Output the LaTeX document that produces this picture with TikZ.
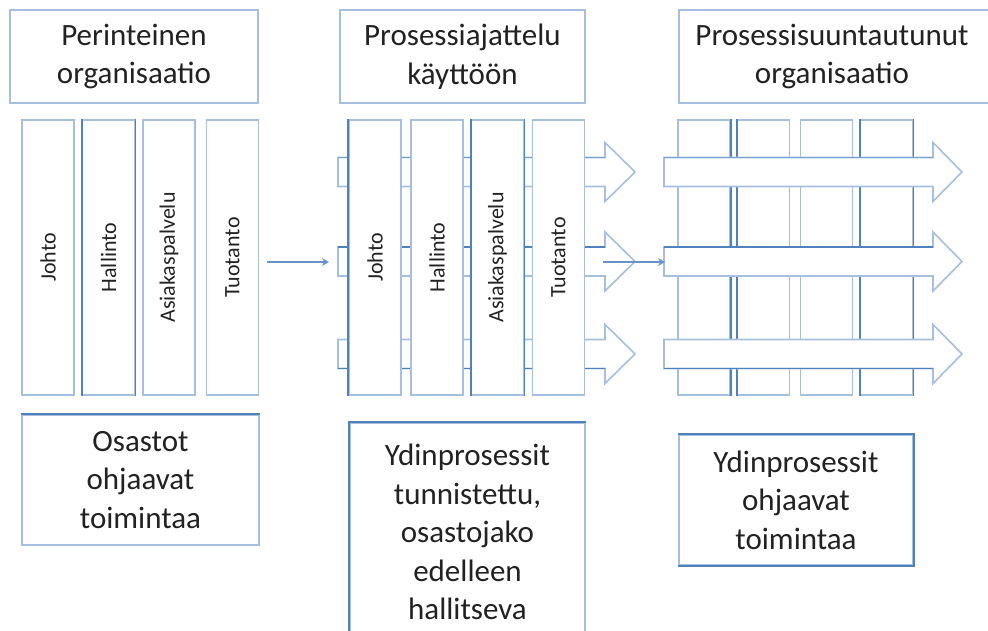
\documentclass[tikz,border=0pt]{standalone}
\usepackage{fontspec}
\setmainfont{Carlito}
\usetikzlibrary{arrows.meta}
\definecolor{pale}{HTML}{A7BFDE}
\definecolor{deep}{HTML}{4F81BD}
\definecolor{mid}{HTML}{7B9FCF}
\definecolor{ink}{HTML}{222222}
\tikzset{
	box/.style={draw=pale, line width=1.6pt, fill=white, align=center, text=ink, inner sep=0pt, font=\fontsize{31}{38.5}\selectfont},
	col/.style={draw=pale, line width=1.6pt, fill=white, rotate=90, minimum width=275pt, minimum height=52pt, inner sep=0pt, text=ink, font=\fontsize{22}{24}\selectfont},
	band/.style={draw=pale, line width=1.6pt, fill=white, line join=miter},
	rim/.style={draw=deep, line width=1.6pt},
	conn/.style={draw=deep!85, line width=1.4pt, -{Stealth[length=7pt,width=8pt]}}
}
% block arrow: start, neck, tip, centre line, top edge colour, bottom edge colour
\newcommand{\procarrow}[6]{
	\draw[band] (#1,#4-14.5) -- (#2,#4-14.5) -- (#2,#4-29.5) -- (#3,#4) -- (#2,#4+29.5) -- (#2,#4+14.5) -- (#1,#4+14.5) -- cycle;
	\draw[line width=1.6pt, draw=#5] (#1,#4-14.5) -- (#2,#4-14.5);
	\draw[line width=1.6pt, draw=#6] (#1,#4+14.5) -- (#2,#4+14.5);
}
\begin{document}
\begin{tikzpicture}[x=1pt, y=-1pt]
	\useasboundingbox[fill=white] (0,0) rectangle (988,631);
	% Draw the headings
	\node[box, minimum width=248pt, minimum height=93pt] (h1) at (134,56.5) {Perinteinen\\organisaatio};
	\node[box, minimum width=245pt, minimum height=93pt] (h2) at (462.5,56.5) {Prosessiajattelu\\käyttöön};
	\draw[pale, line width=1.6pt] (995,10) -- (679,10) -- (679,103) -- (995,103);
	\node[box, draw=none, fill=none] (h3) at (832,56.5) {Prosessisuuntautunut\\organisaatio};
	% Draw the departments
	\foreach \x/\n/\t in {48/1/Johto, 108.5/2/Hallinto, 169/3/Asiakaspalvelu, 232.5/4/Tuotanto} {
		\node[col] (l\n) at (\x,257.5) {\t};
	}
	\draw[rim] (l2.north west) -- (l2.north east) (l2.south west) -- (l2.south east);
	% Draw the processes behind the departments
	\procarrow{338}{605}{635}{172}{mid}{pale}
	\procarrow{338}{605}{635}{261.5}{deep}{pale}
	\procarrow{338}{605}{635}{354}{pale}{deep}
	\foreach \x/\n/\t in {375/1/Johto, 437/2/Hallinto, 497.5/3/Asiakaspalvelu, 558.5/4/Tuotanto} {
		\node[col] (m\n) at (\x,257.5) {\t};
	}
	\draw[rim] (m1.north west) -- (m1.north east) (m3.north west) -- (m3.north east) (m3.south west) -- (m3.south east);
	% Draw the processes in front of the departments
	\foreach \x/\n in {704/1, 763.5/2, 826.5/3, 886.5/4} {
		\node[col] (r\n) at (\x,257.5) {};
	}
	\draw[rim] (r1.south west) -- (r1.south east) (r2.north west) -- (r2.north east) (r4.north west) -- (r4.north east) (r4.south west) -- (r4.south east);
	\procarrow{664}{933}{962}{172}{mid}{pale}
	\procarrow{664}{933}{962}{261.5}{deep}{pale}
	\procarrow{664}{933}{962}{354}{pale}{deep}
	% Draw the steps between the stages
	\coordinate (out1) at (267,262);
	\coordinate (in1) at (329,262);
	\coordinate (out2) at (603,262);
	\coordinate (in2) at (665,262);
	\draw[conn] (out1) -- (in1);
	\draw[conn] (out2) -- (in2);
	% Draw the captions
	\node[box, minimum width=237pt, minimum height=130pt] (c1) at (140.5,480) {Osastot\\ohjaavat\\toimintaa};
	\draw[rim] (c1.north west) -- (c1.north east);
	\node[box, minimum width=235pt, minimum height=218pt] (c2) at (467.5,532) {Ydinprosessit\\tunnistettu,\\osastojako\\edelleen\\hallitseva};
	\draw[rim] (c2.south west) -- (c2.north west) -- (c2.north east);
	\node[box, minimum width=234pt, minimum height=130pt] (c3) at (796,500) {Ydinprosessit\\ohjaavat\\toimintaa};
	\draw[rim] (c3.north west) -- (c3.north east) -- (c3.south east) -- (c3.south west);
\end{tikzpicture}
\end{document}
